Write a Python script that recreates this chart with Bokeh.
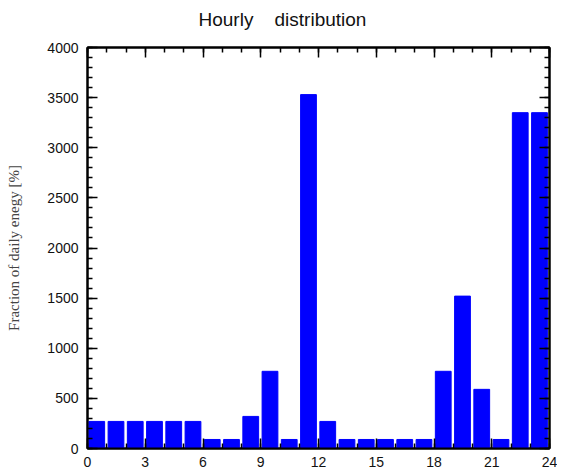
from bokeh.plotting import figure
from bokeh.models import Range1d, FixedTicker, LinearAxis, Title
from bokeh.embed import file_html
from bokeh.resources import INLINE

title_text = "Hourly\u00a0\u00a0\u00a0\u00a0distribution"
hours = list(range(24))
energy = [270, 270, 270, 270, 270, 270, 90, 90, 320, 770, 90, 3530,
          270, 90, 90, 90, 90, 90, 770, 1520, 590, 90, 3350, 3350]
x_major = [0, 3, 6, 9, 12, 15, 18, 21, 24]
y_major = list(range(0, 4001, 500))

p = figure(width=557, height=472, output_backend="svg", toolbar_location=None,
           x_range=Range1d(0, 24), y_range=Range1d(0, 4000),
           min_border_left=87, min_border_top=47, min_border_right=8, min_border_bottom=24)
p.title.text = title_text
p.title.align = "left"
p.title.offset = 111
p.title.standoff = 0
p.title.text_font = "Liberation Sans"
p.title.text_font_style = "normal"
p.title.text_font_size = "19px"
p.title.text_color = "#111111"
p.grid.visible = False
p.outline_line_color = "black"
p.outline_line_width = 2

centers = [h + 0.48 for h in hours]
p.vbar(x=centers, width=0.82, top=energy, bottom=0, fill_color="#0000ff", line_color="#0000ff")

xt = FixedTicker(ticks=x_major, minor_ticks=list(range(25)))
yt = FixedTicker(ticks=y_major, minor_ticks=list(range(0, 4001, 100)))

def style(ax, labels=True):
    ax.axis_line_width = 2
    ax.axis_line_color = "black"
    ax.major_tick_in = 10
    ax.major_tick_out = 0
    ax.minor_tick_in = 5
    ax.minor_tick_out = 0
    ax.major_tick_line_width = 1.5
    ax.minor_tick_line_width = 1.5
    ax.major_label_text_font = "Liberation Sans"
    ax.major_label_text_font_size = "14px"
    ax.major_label_text_color = "#111111"
    if not labels:
        ax.major_label_text_alpha = 0
        ax.major_label_text_font_size = "1px"
        ax.major_label_standoff = 0

p.xaxis.ticker = xt
p.yaxis.ticker = yt
style(p.xaxis[0])
style(p.yaxis[0])
p.xaxis.major_label_standoff = 8
p.yaxis.major_label_standoff = 9
p.yaxis.axis_label = "Fraction of daily enegy [%]"
p.yaxis.axis_label_text_font = "Liberation Serif"
p.yaxis.axis_label_text_font_style = "normal"
p.yaxis.axis_label_text_font_size = "15px"
p.yaxis.axis_label_text_color = "#444444"
p.yaxis.axis_label_standoff = 22

top_ax = LinearAxis(ticker=xt)
style(top_ax, labels=False)
right_ax = LinearAxis(ticker=yt)
style(right_ax, labels=False)
p.add_layout(top_ax, "above")
p.add_layout(right_ax, "right")
spacer = Title(text="\u00a0", text_font_size="14px", standoff=0)
p.add_layout(spacer, "above")

open("out.html", "w").write(file_html(p, INLINE))
